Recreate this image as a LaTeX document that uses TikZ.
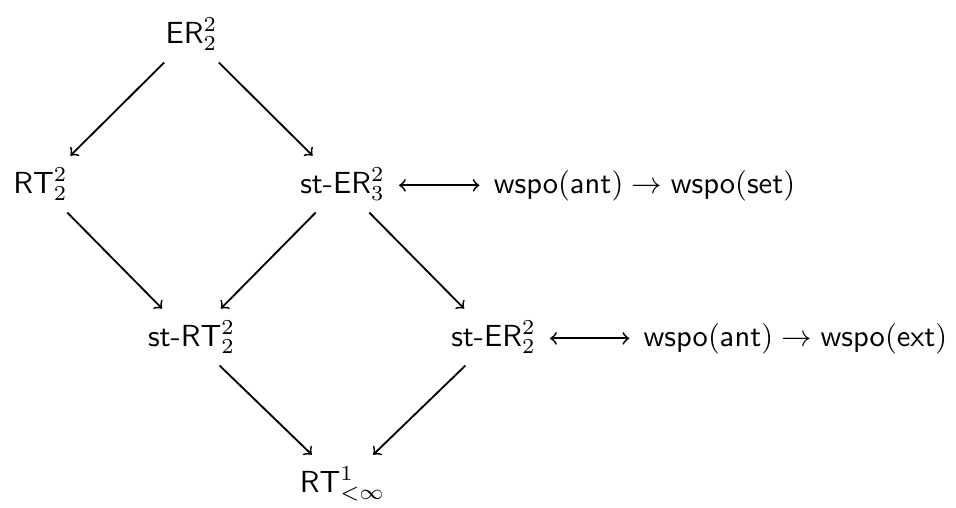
\documentclass[tikz,border=0pt]{standalone}
\tikzset{
  cell/.style={inner xsep=4.5pt, inner ysep=1.2pt, text height=10pt, text depth=5pt, anchor=base, font=\fontsize{10}{12}\selectfont},
  arr/.style={->, line width=0.6pt, shorten >=1.2pt},
  dbl/.style={<->, line width=0.6pt}
}
\begin{document}
\begin{tikzpicture}[x=0.3279pt, y=-0.3279pt]
\useasboundingbox (0,0) rectangle (956,508);
\node[cell] (er) at (191.5,43) {\textsf{ER}$^2_2$};
\node[cell] (rt) at (40.5,193) {\textsf{RT}$^2_2$};
\node[cell] (ster3) at (342.5,193) {\textsf{st-ER}$^2_3$};
\node[cell] (w1) at (644.5,193) {$\mathsf{wspo}(\mathsf{ant})\to\mathsf{wspo}(\mathsf{set})$};
\node[cell] (strt) at (191.5,346) {\textsf{st-RT}$^2_2$};
\node[cell] (ster2) at (493.5,346) {\textsf{st-ER}$^2_2$};
\node[cell] (w2) at (795.5,346) {$\mathsf{wspo}(\mathsf{ant})\to\mathsf{wspo}(\mathsf{ext})$};
\node[cell] (rt1) at (342.5,492) {\textsf{RT}$^1_{<\infty}$};
\draw[arr] (er) -- (rt);
\draw[arr] (er) -- (ster3);
\draw[arr] (rt) -- (strt);
\draw[arr] (ster3) -- (strt);
\draw[arr] (ster3) -- (ster2);
\draw[arr] (strt) -- (rt1);
\draw[arr] (ster2) -- (rt1);
\draw[dbl] (ster3) -- (w1);
\draw[dbl] (ster2) -- (w2);
\end{tikzpicture}
\end{document}
